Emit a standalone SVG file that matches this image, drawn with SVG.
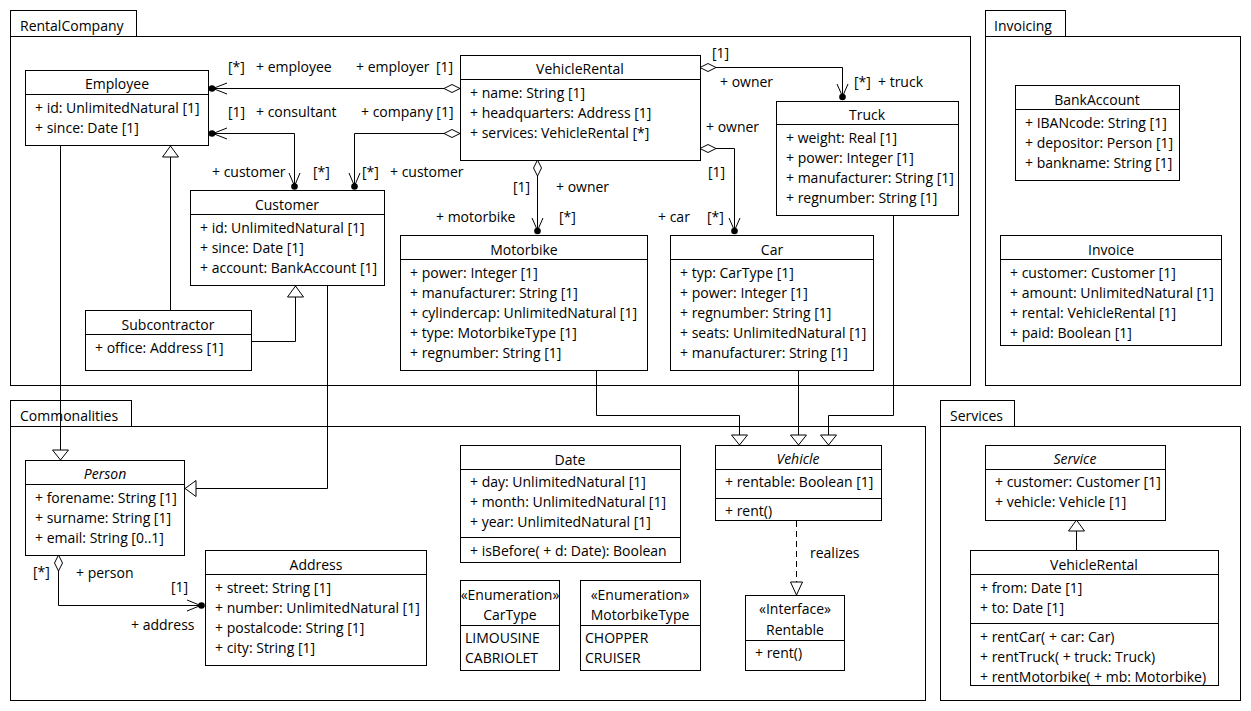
<svg xmlns="http://www.w3.org/2000/svg" width="1251" height="711" viewBox="0 0 1251 711">
<style>
.bg{fill:#fff}
.box{fill:#fff;stroke:#000;stroke-width:1}
.sep{stroke:#000;stroke-width:1;fill:none}
.ln{fill:none;stroke:#000;stroke-width:1}
.dash{stroke-dasharray:6 4}
.tri{fill:#fff;stroke:#000;stroke-width:1}
.dia{fill:#fff;stroke:#000;stroke-width:1}
.dot{fill:#000}
text{font-family:"Open Sans","Noto Sans","DejaVu Sans",sans-serif;font-size:14px;font-weight:400;fill:#000}
.c{text-anchor:middle}
.i{font-style:italic}
</style>
<rect class="bg" x="0" y="0" width="1251" height="711"/>

<g id="pkg-rentalcompany">
<rect class="box" x="10.5" y="10.5" width="126" height="26"/>
<rect class="box" x="10.5" y="36.5" width="960" height="349" style="fill:none"/>
<text x="20" y="31">RentalCompany</text>
</g>
<g id="pkg-invoicing">
<rect class="box" x="985.5" y="10.5" width="80" height="26"/>
<rect class="box" x="985.5" y="36.5" width="255" height="349" style="fill:none"/>
<text x="994" y="31">Invoicing</text>
</g>
<g id="pkg-commonalities">
<rect class="box" x="10.5" y="400.5" width="121" height="26"/>
<rect class="box" x="10.5" y="426.5" width="915" height="274" style="fill:none"/>
<text x="20" y="421">Commonalities</text>
</g>
<g id="pkg-services">
<rect class="box" x="940.5" y="400.5" width="74" height="26"/>
<rect class="box" x="940.5" y="426.5" width="300" height="274" style="fill:none"/>
<text x="950" y="421">Services</text>
</g>

<g id="connectors">
<!-- Employee - VehicleRental -->
<path class="ln" d="M212,88.5 H444"/>
<polygon class="dia" points="460,88.5 452,84.5 444,88.5 452,92.5"/>
<circle class="dot" cx="212" cy="88.5" r="3.3"/>
<path class="ln" d="M227,83 L213,88.5 L227,94"/>
<!-- Employee - Customer -->
<path class="ln" d="M212,133.5 H294.5 V186"/>
<circle class="dot" cx="212" cy="133.5" r="3.3"/>
<path class="ln" d="M227,128 L213,133.5 L227,139"/>
<circle class="dot" cx="294.5" cy="186.5" r="3.3"/>
<path class="ln" d="M289,173 L294.5,186 L300,173"/>
<!-- VehicleRental - Customer -->
<polygon class="dia" points="460,133.5 452,129.5 444,133.5 452,137.5"/>
<path class="ln" d="M444,133.5 H354.5 V186"/>
<circle class="dot" cx="354.5" cy="186.5" r="3.3"/>
<path class="ln" d="M349,173 L354.5,186 L360,173"/>
<!-- VehicleRental - Truck -->
<polygon class="dia" points="700,67.5 708,63.5 716,67.5 708,71.5"/>
<path class="ln" d="M716,67.5 H842.5 V97"/>
<circle class="dot" cx="842.5" cy="97" r="3.3"/>
<path class="ln" d="M837,84 L842.5,96.5 L848,84"/>
<!-- VehicleRental - Car -->
<polygon class="dia" points="700,148.5 708,144.5 716,148.5 708,152.5"/>
<path class="ln" d="M716,148.5 H734.5 V231"/>
<circle class="dot" cx="734.5" cy="231" r="3.3"/>
<path class="ln" d="M729,218 L734.5,230.5 L740,218"/>
<!-- VehicleRental - Motorbike -->
<polygon class="dia" points="537.5,160 541.5,168 537.5,176 533.5,168"/>
<path class="ln" d="M537.5,176 V231"/>
<circle class="dot" cx="537.5" cy="231" r="3.3"/>
<path class="ln" d="M532,218 L537.5,230.5 L543,218"/>
<!-- Person - Address -->
<polygon class="dia" points="58.5,555 62.5,563 58.5,571 54.5,563"/>
<path class="ln" d="M58.5,571 V605.5 H201"/>
<circle class="dot" cx="201.5" cy="605.5" r="3.3"/>
<path class="ln" d="M187,600 L200.5,605.5 L187,611"/>
<!-- Generalizations -->
<path class="ln" d="M170.5,310 V157"/>
<polygon class="tri" points="170.5,146 162.5,157 178.5,157"/>
<path class="ln" d="M251,341.5 H295.5 V297"/>
<polygon class="tri" points="295.5,286 287.5,297 303.5,297"/>
<path class="ln" d="M60.5,145 V450"/>
<polygon class="tri" points="60.5,460 52.5,450 68.5,450"/>
<path class="ln" d="M327.5,285 V488.5 H196"/>
<polygon class="tri" points="185,488.5 196,480.5 196,496.5"/>
<path class="ln" d="M596.5,370 V415.5 H739.5 V435"/>
<polygon class="tri" points="739.5,445 731.5,435 747.5,435"/>
<path class="ln" d="M798.5,370 V435"/>
<polygon class="tri" points="798.5,445 790.5,435 806.5,435"/>
<path class="ln" d="M893.5,215 V415.5 H828.5 V435"/>
<polygon class="tri" points="828.5,445 820.5,435 836.5,435"/>
<path class="ln" d="M1076.5,550 V531"/>
<polygon class="tri" points="1076.5,520 1068.5,531 1084.5,531"/>
<!-- Realization -->
<path class="ln dash" d="M796.5,521 V582"/>
<polygon class="tri" points="796.5,595 790.5,582 802.5,582"/>

<!-- labels -->
<text x="228" y="72">[*]</text>
<text x="256" y="72">+ employee</text>
<text x="356" y="72">+ employer</text>
<text x="436" y="72">[1]</text>
<text x="228" y="117">[1]</text>
<text x="256" y="117">+ consultant</text>
<text x="361" y="117">+ company [1]</text>
<text x="212" y="177">+ customer</text>
<text x="313" y="177">[*]</text>
<text x="362" y="177">[*]</text>
<text x="390" y="177">+ customer</text>
<text x="712" y="58">[1]</text>
<text x="720" y="87">+ owner</text>
<text x="854" y="87">[*]</text>
<text x="878" y="87">+ truck</text>
<text x="706" y="132">+ owner</text>
<text x="708" y="177">[1]</text>
<text x="513" y="192">[1]</text>
<text x="556" y="192">+ owner</text>
<text x="436" y="222">+ motorbike</text>
<text x="559" y="222">[*]</text>
<text x="658" y="222">+ car</text>
<text x="707" y="222">[*]</text>
<text x="33" y="577">[*]</text>
<text x="76" y="578">+ person</text>
<text x="171" y="592">[1]</text>
<text x="131" y="630">+ address</text>
<text x="810" y="558">realizes</text>
</g>

<g id="employee">
<rect class="box" x="25.5" y="70.5" width="183" height="75"/>
<path class="sep" d="M25.5,94.5 H208.5"/>
<text class="c" x="117" y="89">Employee</text>
<text x="35" y="113">+ id: UnlimitedNatural [1]</text>
<text x="35" y="133">+ since: Date [1]</text>
</g>

<g id="vehiclerental">
<rect class="box" x="460.5" y="55.5" width="240" height="105"/>
<path class="sep" d="M460.5,79.5 H700.5"/>
<text class="c" x="580" y="74">VehicleRental</text>
<text x="470" y="98">+ name: String [1]</text>
<text x="470" y="118">+ headquarters: Address [1]</text>
<text x="470" y="138">+ services: VehicleRental [*]</text>
</g>

<g id="truck">
<rect class="box" x="776.5" y="101.5" width="182" height="114"/>
<path class="sep" d="M776.5,124.5 H958.5"/>
<text class="c" x="867" y="120">Truck</text>
<text x="786" y="143">+ weight: Real [1]</text>
<text x="786" y="163">+ power: Integer [1]</text>
<text x="786" y="183">+ manufacturer: String [1]</text>
<text x="786" y="203">+ regnumber: String [1]</text>
</g>

<g id="customer">
<rect class="box" x="190.5" y="190.5" width="194" height="95"/>
<path class="sep" d="M190.5,214.5 H384.5"/>
<text class="c" x="287" y="210">Customer</text>
<text x="200" y="233">+ id: UnlimitedNatural [1]</text>
<text x="200" y="253">+ since: Date [1]</text>
<text x="200" y="273">+ account: BankAccount [1]</text>
</g>

<g id="subcontractor">
<rect class="box" x="85.5" y="310.5" width="166" height="60"/>
<path class="sep" d="M85.5,334.5 H251.5"/>
<text class="c" x="168" y="330">Subcontractor</text>
<text x="95" y="353">+ office: Address [1]</text>
</g>

<g id="motorbike">
<rect class="box" x="400.5" y="235.5" width="247" height="135"/>
<path class="sep" d="M400.5,259.5 H647.5"/>
<text class="c" x="524" y="255">Motorbike</text>
<text x="410" y="278">+ power: Integer [1]</text>
<text x="410" y="298">+ manufacturer: String [1]</text>
<text x="410" y="318">+ cylindercap: UnlimitedNatural [1]</text>
<text x="410" y="338">+ type: MotorbikeType [1]</text>
<text x="410" y="358">+ regnumber: String [1]</text>
</g>

<g id="car">
<rect class="box" x="670.5" y="235.5" width="203" height="135"/>
<path class="sep" d="M670.5,259.5 H873.5"/>
<text class="c" x="772" y="255">Car</text>
<text x="680" y="278">+ typ: CarType [1]</text>
<text x="680" y="298">+ power: Integer [1]</text>
<text x="680" y="318">+ regnumber: String [1]</text>
<text x="680" y="338">+ seats: UnlimitedNatural [1]</text>
<text x="680" y="358">+ manufacturer: String [1]</text>
</g>

<g id="bankaccount">
<rect class="box" x="1015.5" y="85.5" width="164" height="95"/>
<path class="sep" d="M1015.5,109.5 H1179.5"/>
<text class="c" x="1097" y="105">BankAccount</text>
<text x="1025" y="128">+ IBANcode: String [1]</text>
<text x="1025" y="148">+ depositor: Person [1]</text>
<text x="1025" y="168">+ bankname: String [1]</text>
</g>

<g id="invoice">
<rect class="box" x="1000.5" y="235.5" width="221" height="110"/>
<path class="sep" d="M1000.5,259.5 H1221.5"/>
<text class="c" x="1111" y="255">Invoice</text>
<text x="1010" y="278">+ customer: Customer [1]</text>
<text x="1010" y="298">+ amount: UnlimitedNatural [1]</text>
<text x="1010" y="318">+ rental: VehicleRental [1]</text>
<text x="1010" y="338">+ paid: Boolean [1]</text>
</g>

<g id="person">
<rect class="box" x="25.5" y="460.5" width="159" height="95"/>
<path class="sep" d="M25.5,484.5 H184.5"/>
<text class="c i" x="105" y="479">Person</text>
<text x="35" y="503">+ forename: String [1]</text>
<text x="35" y="523">+ surname: String [1]</text>
<text x="35" y="543">+ email: String [0..1]</text>
</g>

<g id="address">
<rect class="box" x="205.5" y="550.5" width="221" height="115"/>
<path class="sep" d="M205.5,574.5 H426.5"/>
<text class="c" x="316" y="570">Address</text>
<text x="215" y="593">+ street: String [1]</text>
<text x="215" y="613">+ number: UnlimitedNatural [1]</text>
<text x="215" y="633">+ postalcode: String [1]</text>
<text x="215" y="653">+ city: String [1]</text>
</g>

<g id="date">
<rect class="box" x="460.5" y="445.5" width="220" height="117"/>
<path class="sep" d="M460.5,469.5 H680.5"/>
<path class="sep" d="M460.5,537.5 H680.5"/>
<text class="c" x="570" y="465">Date</text>
<text x="470" y="487">+ day: UnlimitedNatural [1]</text>
<text x="470" y="507">+ month: UnlimitedNatural [1]</text>
<text x="470" y="527">+ year: UnlimitedNatural [1]</text>
<text x="470" y="556">+ isBefore( + d: Date): Boolean</text>
</g>

<g id="vehicle">
<rect class="box" x="715.5" y="445.5" width="166" height="75"/>
<path class="sep" d="M715.5,469.5 H881.5"/>
<path class="sep" d="M715.5,498.5 H881.5"/>
<text class="c i" x="798" y="464">Vehicle</text>
<text x="725" y="487">+ rentable: Boolean [1]</text>
<text x="725" y="516">+ rent()</text>
</g>

<g id="cartype">
<rect class="box" x="460.5" y="580.5" width="99" height="90"/>
<path class="sep" d="M460.5,625.5 H559.5"/>
<text class="c" x="510" y="600">«Enumeration»</text>
<text class="c" x="510" y="620">CarType</text>
<text x="465" y="643">LIMOUSINE</text>
<text x="465" y="663">CABRIOLET</text>
</g>

<g id="motorbiketype">
<rect class="box" x="580.5" y="580.5" width="120" height="90"/>
<path class="sep" d="M580.5,625.5 H700.5"/>
<text class="c" x="640" y="600">«Enumeration»</text>
<text class="c" x="640" y="620">MotorbikeType</text>
<text x="585" y="643">CHOPPER</text>
<text x="585" y="663">CRUISER</text>
</g>

<g id="rentable">
<rect class="box" x="745.5" y="595.5" width="99" height="75"/>
<path class="sep" d="M745.5,640.5 H844.5"/>
<text class="c" x="795" y="614">«Interface»</text>
<text class="c" x="795" y="635">Rentable</text>
<text x="755" y="658">+ rent()</text>
</g>

<g id="service">
<rect class="box" x="985.5" y="445.5" width="180" height="75"/>
<path class="sep" d="M985.5,469.5 H1165.5"/>
<text class="c i" x="1075" y="464">Service</text>
<text x="995" y="487">+ customer: Customer [1]</text>
<text x="995" y="507">+ vehicle: Vehicle [1]</text>
</g>

<g id="services-vehiclerental">
<rect class="box" x="970.5" y="550.5" width="248" height="135"/>
<path class="sep" d="M970.5,574.5 H1218.5"/>
<path class="sep" d="M970.5,623.5 H1218.5"/>
<text class="c" x="1094" y="570">VehicleRental</text>
<text x="980" y="593">+ from: Date [1]</text>
<text x="980" y="613">+ to: Date [1]</text>
<text x="980" y="642">+ rentCar( + car: Car)</text>
<text x="980" y="662">+ rentTruck( + truck: Truck)</text>
<text x="980" y="682">+ rentMotorbike( + mb: Motorbike)</text>
</g>
</svg>
